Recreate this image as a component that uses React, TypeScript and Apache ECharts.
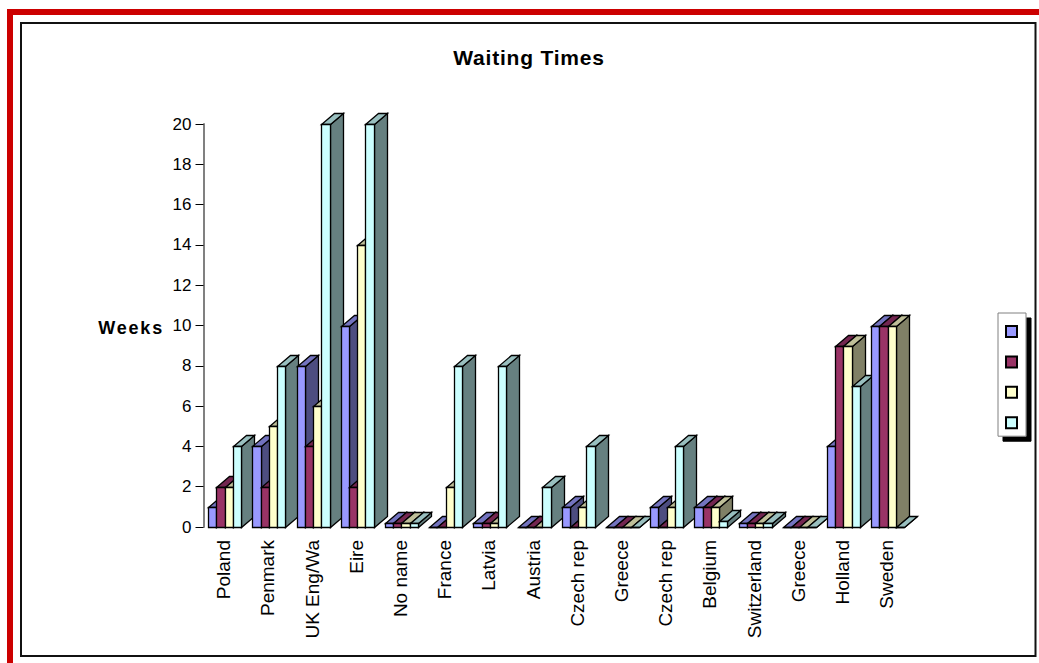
import React, { useEffect, useRef } from "react";
import * as echarts from "echarts";

const categories = ["Poland", "Penmark", "UK Eng/Wa", "Eire", "No name", "France", "Latvia", "Austria", "Czech rep", "Greece", "Czech rep", "Belgium", "Switzerland", "Greece", "Holland", "Sweden"];
const seriesA = [1, 4, 8, 10, 0.2, 0, 0.2, 0, 1, 0, 1, 1, 0.2, 0, 4, 10];
const seriesB = [2, 2, 4, 2, 0.2, 0, 0.2, 0, 0, 0, 0, 1, 0.2, 0, 9, 10];
const seriesC = [2, 5, 6, 14, 0.2, 2, 0.2, 0, 1, 0, 1, 1, 0.2, 0, 9, 10];
const seriesD = [4, 8, 20, 20, 0.2, 8, 8, 2, 4, 0, 4, 0.3, 0.2, 0, 7, 0];
const frontColors = ["#9999FF", "#993366", "#FFFFCC", "#CCFFFF"];
const topColors = ["#7373BF", "#732650", "#BFBF99", "#99BFBF"];
const sideColors = ["#4D4D80", "#4D1A33", "#808066", "#668080"];
const yTicks = { min: 0, max: 20, interval: 2 };

const BAR_W = 8.25;
const DEPTH_X = 13;
const DEPTH_Y = 11;

function makeSeries(values: number[], idx: number) {
  return {
    type: "custom",
    name: "S" + (idx + 1),
    clip: false,
    itemStyle: { color: frontColors[idx], borderColor: "#000", borderWidth: 1 },
    encode: { x: 0, y: 1 },
    data: values.map((v, i) => [i, v]),
    renderItem: (_p: any, api: any) => {
      const cat = api.value(0);
      const top = api.coord([cat, api.value(1)]);
      const base = api.coord([cat, 0]);
      const snap = (n: number) => Math.round(n) + 0.5;
      const x0 = snap(top[0] - 2 * BAR_W + idx * BAR_W - 1);
      const x1 = snap(top[0] - 2 * BAR_W + (idx + 1) * BAR_W - 1);
      const y = snap(top[1]);
      const b = snap(base[1]);
      const stroke = { stroke: "#000", lineWidth: 1.3 };
      const z2 = cat * 10 + idx;
      return {
        type: "group",
        children: [
          { type: "polygon", z2, shape: { points: [[x1, y], [x1 + DEPTH_X, y - DEPTH_Y], [x1 + DEPTH_X, b - DEPTH_Y], [x1, b]] }, style: { fill: sideColors[idx], ...stroke } },
          { type: "polygon", z2, shape: { points: [[x0, y], [x1, y], [x1 + DEPTH_X, y - DEPTH_Y], [x0 + DEPTH_X, y - DEPTH_Y]] }, style: { fill: topColors[idx], ...stroke } },
          { type: "rect", z2, shape: { x: x0, y, width: x1 - x0, height: b - y }, style: { fill: frontColors[idx], ...stroke } },
        ],
      };
    },
  };
}

export default function App() {
  const ref = useRef<HTMLDivElement>(null);
  useEffect(() => {
    document.body.style.margin = "0";
    const chart = echarts.init(ref.current!, null, { renderer: "svg" });
    chart.setOption({
      animation: false,
      backgroundColor: "#fff",
      textStyle: { fontFamily: "Liberation Sans" },
      title: {
        text: "Waiting Times",
        left: 524,
        top: 42,
        textAlign: "center",
        textStyle: { fontFamily: "Liberation Sans", fontWeight: "bold", fontSize: 21, color: "#000" },
      },
      legend: {
        orient: "vertical",
        left: 998,
        top: 313,
        padding: [12, 8, 7, 7],
        itemWidth: 11,
        itemHeight: 11,
        itemGap: 17.4,
        icon: "rect",
        formatter: () => "",
        selectedMode: false,
        backgroundColor: "#fff",
        borderColor: "#808080",
        borderWidth: 1,
        shadowColor: "#000",
        shadowBlur: 0,
        shadowOffsetX: 5,
        shadowOffsetY: 5,
      },
      grid: { left: 203.5, top: 124, width: 707.2, height: 403 },
      xAxis: {
        type: "category",
        data: categories,
        axisLine: { show: false },
        axisTick: { show: false },
        axisLabel: {
          rotate: 90,
          interval: 0,
          margin: 13,
          fontSize: 19,
          color: "#000",
          fontFamily: "Liberation Sans",
          formatter: (v: string) => "{a|" + v + "}",
          rich: { a: { fontSize: 19, color: "#000", fontFamily: "Liberation Sans", padding: [0, 0, 4, 0] } },
        },
      },
      yAxis: {
        type: "value",
        ...yTicks,
        name: "{a|Weeks}",
        nameLocation: "middle",
        nameRotate: 0,
        nameGap: 39.5,
        nameTextStyle: {
          fontFamily: "Liberation Sans",
          fontWeight: "bold",
          fontSize: 18,
          color: "#000",
          rich: { a: { fontFamily: "Liberation Sans", fontWeight: "bold", fontSize: 18, color: "#000", padding: [5, 0, 0, 0] } },
        },
        axisLine: { show: true, lineStyle: { color: "#808080", width: 2 } },
        axisTick: { show: true, length: 8, lineStyle: { color: "#000", width: 1 } },
        axisLabel: { margin: 12, fontSize: 17, color: "#000", fontFamily: "Liberation Sans" },
        splitLine: { show: false },
      },
      graphic: [
        { type: "rect", z: -10, silent: true, shape: { x: 7, y: 9, width: 1032, height: 6 }, style: { fill: "#CC0000" } },
        { type: "rect", z: -10, silent: true, shape: { x: 7, y: 9, width: 6, height: 654 }, style: { fill: "#CC0000" } },
        { type: "rect", z: -10, silent: true, shape: { x: 21, y: 23, width: 1014.5, height: 633 }, style: { fill: "transparent", stroke: "#111", lineWidth: 2 } },
      ],
      series: [seriesA, seriesB, seriesC, seriesD].map(makeSeries),
    });
    return () => chart.dispose();
  }, []);
  return (
    <>
      <style>{`svg text[style*="bold"][style*="21px"] { letter-spacing: 0.8px; } svg text[style*="bold"][style*="18px"] { letter-spacing: 1.8px; }`}</style>
      <div ref={ref} style={{ width: 1039, height: 663 }} />
    </>
  );
}
